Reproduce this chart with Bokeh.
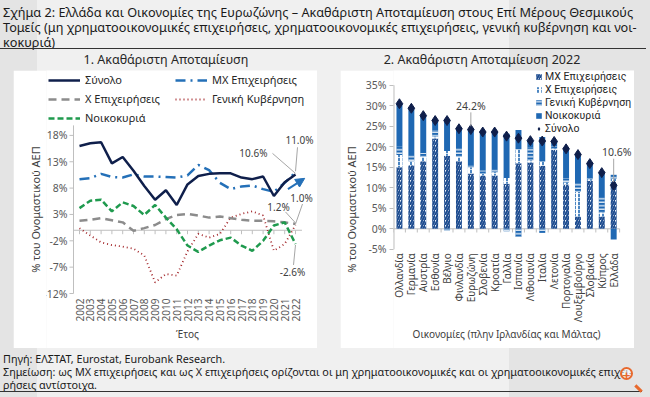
import math
from bokeh.plotting import figure
from bokeh.models import (Legend, LegendItem, FixedTicker, PrintfTickFormatter, Div,
                          Label, Arrow, NormalHead, ColumnDataSource)
from bokeh.layouts import column, row
from bokeh.embed import file_html
from bokeh.resources import INLINE
from bokeh.core.properties import value

FONT = "Noto Sans"

# ---------------- data: chart 1 ----------------
years = list(range(2002, 2023))
total = [16.0, 16.5, 16.7, 12.7, 13.9, 11.3, 8.4, 5.8, 7.6, 4.8, 8.7,
         10.3, 10.7, 10.8, 10.8, 10.0, 9.7, 10.2, 6.5, 9.1, 10.6]
nfc = [9.7, 9.9, 10.7, 10.1, 10.0, 10.6, 10.2, 10.2, 10.1, 10.0, 10.4,
       12.4, 11.4, 9.0, 7.8, 8.3, 8.5, 7.8, 7.3, 9.0, 11.0]
fin = [1.8, 2.0, 2.3, 1.9, 1.5, -0.1, 0.4, 1.0, 2.1, 2.9, 3.1,
       2.8, 2.4, 2.6, 2.3, 2.0, 1.8, 1.8, 1.7, 1.5, 1.2]
gov = [0.4, -1.0, -2.3, -2.8, -3.1, -3.5, -4.8, -9.9, -8.3, -8.6, -4.0,
       -0.7, -1.4, -0.7, 2.4, 3.1, 3.6, 2.8, -3.9, -2.6, 1.0]
hh = [4.2, 5.6, 5.8, 3.6, 5.3, 4.6, 2.9, 4.8, 2.4, 0.2, -2.9,
      -4.1, -2.9, -1.9, -1.4, -2.9, -3.9, -2.0, 0.9, 1.5, -2.6]
left_ticks = [-12, -7, -2, 3, 8, 13, 18]

# ---------------- data: chart 2 ----------------
countries = ["Ολλανδία", "Γερμανία", "Αυστρία", "Εσθονία", "Βέλγιο", "Φινλανδία",
             "Ευρωζώνη", "Σλοβενία", "Κροατία", "Γαλλία", "Ισπανία", "Λιθουανία",
             "Ιταλία", "Λετονία", "Πορτογαλία", "Λουξεμβούργο", "Σλοβακία", "Κύπρος", "Ελλάδα"]
r_nfc = [15.0, 15.5, 16.5, 22.0, 17.8, 16.5, 13.5, 13.0, 13.0, 11.0, 16.0, 16.2,
         15.4, 19.3, 10.8, 3.0, 11.7, 3.0, 11.0]
r_fin = [3.0, 1.0, 1.0, 0.5, 1.2, 1.0, 1.5, 0.4, 0.8, 1.4, 3.4, 0.5,
         1.0, 0.3, 0.5, 6.0, 0.4, 1.0, 1.2]
r_gov = [2.0, 1.5, 1.0, 1.5, -0.4, 2.0, 0.5, 0.8, 0.8, -0.6, -2.0, 3.2,
         -1.0, 0.5, 1.0, 2.0, 0.3, 4.0, 1.0]
r_hh = [10.5, 11.4, 9.1, 2.4, 7.8, 4.9, 8.7, 9.4, 9.0, 10.8, 4.7, 1.6,
        6.0, 1.2, 7.2, 7.1, 3.5, 5.7, -2.6]
r_total = [30.5, 29.4, 27.6, 26.4, 26.4, 24.4, 24.2, 23.6, 23.6, 22.6, 22.1, 21.5,
           21.4, 21.3, 19.5, 18.1, 15.9, 13.7, 10.6]
right_ticks = [-5, 0, 5, 10, 15, 20, 25, 30, 35]

NAVY = "#0f1f4b"
BLUE = "#2470b8"
GRAY = "#8c8c8c"
RED = "#a3262a"
GREEN = "#1f9a4e"
BAR_BLUE = "#1f68b3"
AXIS_GRAY = "#bfbfbf"
TXT = "#595959"
LEAD = "#a6a6a6"


def base_style(p):
    p.border_fill_color = "white"
    p.background_fill_color = "white"
    p.outline_line_color = None
    p.grid.visible = False
    for ax in p.axis:
        ax.major_label_text_font = FONT
        ax.axis_label_text_font = FONT
        ax.major_label_text_color = TXT
        ax.axis_label_text_color = "#404040"
        ax.axis_label_text_font_style = "normal"
        ax.minor_tick_line_color = None


# ================= left chart =================
PXX_L = 10.8          # px per year
PXY_L = 5.27          # px per percentage point
FW_L = 271
XL0 = years[0] - 33 / PXX_L
XL1 = XL0 + FW_L / PXX_L
YL0 = left_ticks[0] - 55 / PXY_L
YL1 = left_ticks[0] + 223 / PXY_L
AX_L = years[0] - 6 / PXX_L          # y-axis position
AX_TOP = 19.9

pl = figure(width=304, height=278, x_range=(XL0, XL1), y_range=(YL0, YL1),
            output_backend="svg", toolbar_location=None, x_axis_location=None,
            min_border_left=33, min_border_right=0, min_border_top=0, min_border_bottom=0,
            margin=(0, 0, 0, 13))
base_style(pl)

pl.yaxis.ticker = FixedTicker(ticks=[])
pl.yaxis.axis_line_color = None
pl.yaxis.major_tick_out = 0
pl.yaxis.major_label_standoff = 0
pl.yaxis.axis_label = "% του Ονομαστικού ΑΕΠ"
pl.yaxis.axis_label_text_font_size = "11px"
pl.yaxis.axis_label_standoff = 4

pl.segment(x0=[AX_L], x1=[AX_L], y0=[left_ticks[0]], y1=[AX_TOP], line_color=AXIS_GRAY)
tk = ColumnDataSource(dict(x0=[AX_L - 4 / PXX_L] * len(left_ticks), x1=[AX_L] * len(left_ticks),
                           y=left_ticks, t=[f"{v}%" for v in left_ticks]))
pl.segment(x0="x0", x1="x1", y0="y", y1="y", source=tk, line_color=AXIS_GRAY)
pl.text(x="x0", y="y", text="t", source=tk, x_offset=-2, text_align="right",
        text_baseline="middle", text_font=value(FONT), text_font_size="10.5px", text_color=TXT)

pl.segment(x0=[AX_L], x1=[years[-1] + 0.6], y0=[0], y1=[0], line_color=AXIS_GRAY)
zsrc = ColumnDataSource(dict(x=years, y0=[0] * len(years), y1=[-0.75] * len(years),
                             yb=[left_ticks[0]] * len(years), t=[str(y) for y in years]))
pl.segment(x0="x", x1="x", y0="y0", y1="y1", source=zsrc, line_color=AXIS_GRAY)
pl.text(x="x", y="yb", text="t", source=zsrc, angle=math.pi / 2, y_offset=5,
        text_align="right", text_baseline="middle", text_font=value(FONT),
        text_font_size="10px", text_color=TXT)
pl.add_layout(Label(x=sum(years) / len(years), y=YL0, y_offset=15, text="Έτος",
                    text_font=FONT, text_font_size="10px", text_color="#404040",
                    text_align="center", text_baseline="middle"))

r_gov_l = pl.line(years, gov, line_color=RED, line_width=1.8, line_dash="1 3")
r_fin_l = pl.line(years, fin, line_color=GRAY, line_width=2.5, line_dash="8 5")
r_hh_l = pl.line(years, hh, line_color=GREEN, line_width=2.5, line_dash="6 3")
r_nfc_l = pl.line(years, nfc, line_color=BLUE, line_width=2.5, line_dash="10 5 2 5")
r_tot_l = pl.line(years, total, line_color=NAVY, line_width=2.5)

pl.add_layout(Arrow(end=NormalHead(size=9, fill_color=BLUE, line_color=BLUE),
                    x_start=years[-1] - 0.7, y_start=nfc[-1] - 3.2,
                    x_end=years[-1] + 0.85, y_end=nfc[-1] - 1.15,
                    line_color=BLUE, line_width=2))

last = years[-1]
ann = [
    (total[-1], "10.6%", -28, 21, "right", (-23, 21), (0, 1)),
    (nfc[-1], "11.0%", 4, 32, "center", (2, 25), (0, 1)),
    (fin[-1], "1.2%", -17, 17, "center", (-10, 12), (0, 1)),
    (gov[-1], "1.0%", 6, 27, "center", (7, 21), (0, 1)),
    (hh[-1], "-2.6%", -3, -28, "center", (-2, -21), (0, -1)),
]
for v, txt, ox, oy, al, l0, l1 in ann:
    pl.segment(x0=[last + l0[0] / PXX_L], y0=[v + l0[1] / PXY_L],
               x1=[last + l1[0] / PXX_L], y1=[v + l1[1] / PXY_L], line_color=LEAD)
    pl.add_layout(Label(x=last, y=v, x_offset=ox, y_offset=oy, text=txt,
                        text_font=FONT, text_font_size="10px", text_color="#404040",
                        text_align=al, text_baseline="middle"))

# column-major order: col 1 = Σύνολο, Χ, Νοικοκυριά ; col 2 = ΜΧ, Γενική
leg_l = Legend(items=[LegendItem(label="Σύνολο", renderers=[r_tot_l]),
                      LegendItem(label="Χ Επιχειρήσεις", renderers=[r_fin_l]),
                      LegendItem(label="Νοικοκυριά", renderers=[r_hh_l]),
                      LegendItem(label="ΜΧ Επιχειρήσεις", renderers=[r_nfc_l]),
                      LegendItem(label="Γενική Κυβέρνηση", renderers=[r_gov_l])],
               orientation="vertical", ncols=2, location=(2, 223),
               padding=0, spacing=4, margin=0, glyph_width=32, glyph_height=12,
               label_height=12, label_width=86, label_standoff=5, border_line_color=None,
               background_fill_alpha=0, label_text_font=FONT, label_text_font_size="11px",
               label_text_color="#262626")
pl.add_layout(leg_l)

# ================= right chart =================
PXX_R = 12.0
PXY_R = 4.1
n = len(countries)
idx = list(range(n))
XR0 = -0.5
XR1 = XR0 + 243 / PXX_R
YR1 = (228.3 - 70) / PXY_R
YR0 = -(348 - 228.3) / PXY_R

pr = figure(width=294, height=278, x_range=(XR0, XR1), y_range=(YR0, YR1),
            output_backend="svg", toolbar_location=None, x_axis_location=None,
            min_border_left=51, min_border_right=0, min_border_top=0, min_border_bottom=0,
            margin=(0, 0, 0, 23))
base_style(pr)

pr.yaxis.ticker = FixedTicker(ticks=right_ticks)
pr.yaxis.formatter = PrintfTickFormatter(format="%d%%")
pr.yaxis.axis_line_color = None
pr.yaxis.major_tick_line_color = AXIS_GRAY
pr.yaxis.major_tick_out = 4
pr.yaxis.major_tick_in = 0
pr.yaxis.major_label_standoff = 3
pr.yaxis.major_label_text_font_size = "10.5px"
pr.yaxis.axis_label = "% του Ονομαστικού ΑΕΠ"
pr.yaxis.axis_label_text_font_size = "11px"
pr.yaxis.axis_label_standoff = 4

pr.segment(x0=[XR0], x1=[XR0], y0=[right_ticks[0]], y1=[right_ticks[-1]],
           line_color=AXIS_GRAY, line_width=2)
pr.segment(x0=[XR0], x1=[n - 0.5], y0=[0], y1=[0], line_color=AXIS_GRAY)
bnd = [i - 0.5 for i in range(n + 1)]
pr.segment(x0=bnd, x1=bnd, y0=[0] * len(bnd), y1=[-0.9] * len(bnd), line_color=AXIS_GRAY)

series = [
    ("ΜΧ Επιχειρήσεις", r_nfc, dict(fill_color="#eef3fa", hatch_pattern="/", hatch_color="#1b4a8e",
                                    hatch_weight=2.0, hatch_scale=5)),
    ("Χ Επιχειρήσεις", r_fin, dict(fill_color="white", hatch_pattern=":", hatch_color=BAR_BLUE,
                                   hatch_weight=1.6, hatch_scale=4)),
    ("Γενική Κυβέρνηση", r_gov, dict(fill_color=BAR_BLUE, hatch_pattern="-", hatch_color="white",
                                     hatch_weight=1.2, hatch_scale=3.5)),
    ("Νοικοκυριά", r_hh, dict(fill_color=BAR_BLUE)),
]
pos = [0.0] * n
neg = [0.0] * n
items_r = []
for name, vals, kw in series:
    bottoms, tops = [], []
    for i, v in enumerate(vals):
        if v >= 0:
            b = pos[i]; t = b + v; pos[i] = t
        else:
            b = neg[i]; t = b + v; neg[i] = t
        bottoms.append(b); tops.append(t)
    rr = pr.vbar(x=idx, bottom=bottoms, top=tops, width=0.5, line_color=None, **kw)
    items_r.append(LegendItem(label=name, renderers=[rr]))

r_tot_r = pr.scatter(x=idx, y=r_total, marker="diamond", size=10,
                     fill_color=NAVY, line_color=NAVY)
items_r.append(LegendItem(label="Σύνολο", renderers=[r_tot_r]))

csrc = ColumnDataSource(dict(x=idx, y=[right_ticks[0]] * n, t=countries))
pr.text(x="x", y="y", text="t", source=csrc, angle=math.pi / 2, y_offset=4,
        text_align="right", text_baseline="middle", text_font=value(FONT),
        text_font_size="10px", text_color="#404040")
pr.add_layout(Label(x=(n - 1) / 2, y=YR0, y_offset=15, text="Οικονομίες (πλην Ιρλανδίας και Μάλτας)",
                    text_font=FONT, text_font_size="10px", text_color="#404040",
                    text_align="center", text_baseline="middle"))

ez = countries.index("Ευρωζώνη")
pr.segment(x0=[ez], x1=[ez], y0=[r_total[ez] + 0.8], y1=[r_total[ez] + 4.2], line_color=LEAD)
pr.add_layout(Label(x=ez, y=r_total[ez], y_offset=24, text="24.2%", text_font=FONT,
                    text_font_size="10.5px", text_color="#404040", text_align="center",
                    text_baseline="middle"))
gr = n - 1
pr.segment(x0=[gr], x1=[gr], y0=[r_total[gr] + 0.8], y1=[r_total[gr] + 6.5], line_color=LEAD)
pr.add_layout(Label(x=gr, y=r_total[gr], x_offset=3, y_offset=33, text="10.6%", text_font=FONT,
                    text_font_size="10.5px", text_color="#404040", text_align="center",
                    text_baseline="middle"))

leg_r = Legend(items=items_r, location=(142, 213), orientation="vertical",
               padding=0, spacing=0, margin=0, glyph_width=7, glyph_height=7,
               label_height=10, label_standoff=3, border_line_color=None,
               background_fill_alpha=0, label_text_font="Roboto", label_text_font_size="10.5px",
               label_text_color="#262626")
pr.add_layout(leg_r)

# ================= page =================
title_html = (
    f"<div style=\"position:relative;width:650px;height:52px;font-family:'{FONT}';color:#1a1a1a\">"
    "<div style=\"position:absolute;left:3px;top:5px;font-size:12.7px;line-height:15px;white-space:nowrap\">"
    "Σχήμα 2: Ελλάδα και Οικονομίες της Ευρωζώνης – Ακαθάριστη Αποταμίευση στους Επί Μέρους Θεσμικούς<br>"
    "Τομείς (μη χρηματοοικονομικές επιχειρήσεις, χρηματοοικονομικές επιχειρήσεις, γενική κυβέρνηση και νοι-<br>"
    "κοκυριά)</div>"
    "<div style=\"position:absolute;left:0px;top:48px;width:646px;border-top:1.5px solid #333\"></div>"
    "</div>")
title_div = Div(text=title_html, width=650, height=52, margin=(0, 0, 0, 0))


def sub_html(txt, cx):
    return (f"<div style=\"position:absolute;left:{cx - 150}px;top:0px;width:300px;text-align:center;"
            f"font-size:12.5px;line-height:15px;white-space:nowrap\">{txt}</div>")


sub_div = Div(text=(f"<div style=\"position:relative;width:650px;height:18px;font-family:'{FONT}';color:#262626\">"
                    + sub_html("1. Ακαθάριστη Αποταμίευση", 166)
                    + sub_html("2. Ακαθάριστη Αποταμίευση 2022", 482) + "</div>"),
              width=650, height=18, margin=(0, 0, 0, 0))

figs = row(pl, pr, width=650, height=278)

footer_html = (
    f"<div style=\"position:relative;width:650px;height:49px;font-family:'{FONT}';color:#1a1a1a\">"
    "<div style=\"position:absolute;left:3px;top:4px;font-size:10.8px;line-height:13px;white-space:nowrap\">"
    "Πηγή: ΕΛΣΤΑΤ, Eurostat, Eurobank Research.<br>"
    "Σημείωση: ως ΜΧ επιχειρήσεις και ως Χ επιχειρήσεις ορίζονται οι μη χρηματοοικονομικές και οι χρηματοοικονομικές επιχει-<br>"
    "ρήσεις αντίστοιχα.</div>"
    "<div style=\"position:absolute;left:0px;top:43px;width:642px;border-top:1.5px solid #333\"></div>"
    "<div style=\"position:absolute;left:620px;top:19px;width:13px;height:13px;border:2.5px solid #e8692d;"
    "border-radius:50%;background:rgba(255,255,255,0.6);color:#e8692d;font:bold 13px/13px sans-serif;"
    "text-align:center\">+</div>"
    "<div style=\"position:absolute;left:637px;top:36px;width:3px;height:9px;background:#e8692d;"
    "transform:rotate(-45deg)\"></div>"
    "</div>")
footer_div = Div(text=footer_html, width=650, height=49, margin=(0, 0, 0, 0))

page = column(title_div, sub_div, figs, footer_div, width=650, height=397,
              styles={"background": "linear-gradient(to right, #e4e4e4 0px, #e4e4e4 37px, "
                                    "#f0f0f0 37px, #f0f0f0 509px, #e4e4e4 509px)"})

open("out.html", "w").write(file_html(page, INLINE))
